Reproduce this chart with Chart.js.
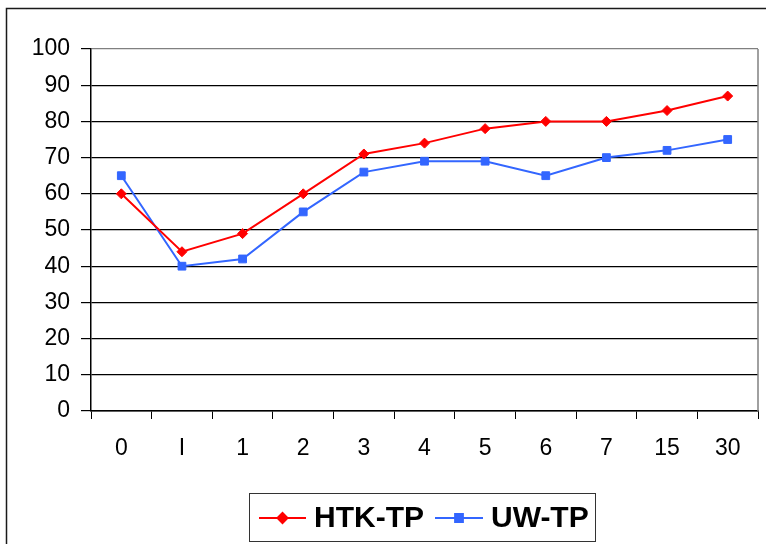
<!DOCTYPE html>
<html>
<head>
<meta charset="utf-8">
<script src="https://cdn.jsdelivr.net/npm/chart.js@4"></script>
<style>
  body { margin: 0; background: #fff; }
  #wrap { width: 766px; height: 544px; }
</style>
</head>
<body>
<div id="wrap"><canvas id="chart" width="766" height="544"></canvas></div>
<script>
const categories = ['0', 'I', '1', '2', '3', '4', '5', '6', '7', '15', '30'];
const htkValues = [60, 44, 49, 60, 71, 74, 78, 80, 80, 83, 87];
const uwValues = [65, 40, 42, 55, 66, 69, 69, 65, 70, 72, 75];
const seriesNames = ['HTK-TP', 'UW-TP'];

// frame around the whole picture, grey plot edge and the boxed legend
const decor = {
  id: 'decor',
  beforeDraw(chart) {
    const ctx = chart.ctx;
    ctx.save();
    ctx.strokeStyle = '#1a1a1a';
    ctx.lineWidth = 1.5;
    ctx.strokeRect(6.5, 8.5, 800, 600);
    ctx.restore();
  },
  afterDraw(chart) {
    const ctx = chart.ctx;
    const area = chart.chartArea;
    ctx.save();
    ctx.strokeStyle = '#808080';
    ctx.lineWidth = 1.5;
    ctx.beginPath();
    ctx.moveTo(area.right, area.top);
    ctx.lineTo(area.right, area.bottom);
    ctx.stroke();

    // legend box
    ctx.strokeStyle = '#333';
    ctx.lineWidth = 1;
    ctx.strokeRect(249.5, 493.5, 346, 48);

    const items = [
      { ds: chart.data.datasets[0], x0: 259, x1: 306, tx: 314 },
      { ds: chart.data.datasets[1], x0: 435, x1: 483, tx: 491 }
    ];
    const y = 518;
    items.forEach(it => {
      ctx.strokeStyle = it.ds.borderColor;
      ctx.lineWidth = 2;
      ctx.beginPath();
      ctx.moveTo(it.x0, y);
      ctx.lineTo(it.x1, y);
      ctx.stroke();
      Chart.helpers.drawPoint(ctx, {
        pointStyle: it.ds.pointStyle,
        radius: it.ds.pointRadius,
        borderWidth: 1,
        rotation: 0
      }, (it.x0 + it.x1) / 2, y);
      ctx.fillStyle = it.ds.borderColor;
      ctx.fill();
      ctx.fillStyle = '#000';
      ctx.font = 'bold 30px "Liberation Sans", Arial, sans-serif';
      ctx.textBaseline = 'middle';
      ctx.textAlign = 'left';
      ctx.fillText(it.ds.label, it.tx, y + 1);
    });
    ctx.restore();
  }
};

new Chart(document.getElementById('chart'), {
  type: 'line',
  data: {
    labels: categories,
    datasets: [
      {
        label: seriesNames[0],
        data: htkValues,
        borderColor: '#FF0000',
        backgroundColor: '#FF0000',
        borderWidth: 2,
        pointStyle: 'rectRot',
        pointRadius: 5,
        pointBorderWidth: 1,
        tension: 0,
        fill: false
      },
      {
        label: seriesNames[1],
        data: uwValues,
        borderColor: '#3366FF',
        backgroundColor: '#3366FF',
        borderWidth: 2,
        pointStyle: 'rect',
        pointRadius: 5.5,
        pointBorderWidth: 1,
        tension: 0,
        fill: false
      }
    ]
  },
  options: {
    responsive: false,
    animation: false,
    layout: { padding: { left: 0, top: 49, right: 8, bottom: 83 } },
    plugins: {
      legend: { display: false },
      tooltip: { enabled: false }
    },
    scales: {
      x: {
        offset: true,
        grid: {
          offset: true,
          drawOnChartArea: false,
          drawTicks: true,
          tickLength: 8,
          color: '#000',
          tickColor: '#000'
        },
        border: { color: '#000', width: 1.5 },
        ticks: {
          color: '#000',
          padding: 16,
          maxRotation: 0,
          font: { family: '"Liberation Sans", Arial, sans-serif', size: 23 }
        },
        afterFit(scale) { scale.height = 50; }
      },
      y: {
        min: 0,
        max: 100,
        grid: {
          color: (c) => (c.tick && c.tick.value === 100 ? '#808080' : '#000'),
          tickColor: '#000',
          lineWidth: 1.2,
          drawTicks: true,
          tickLength: 10
        },
        border: { color: '#000', width: 1.5 },
        ticks: {
          stepSize: 10,
          color: '#000',
          padding: 11,
          font: { family: '"Liberation Sans", Arial, sans-serif', size: 23 }
        },
        afterFit(scale) { scale.width = 91; }
      }
    }
  },
  plugins: [decor]
});
</script>
</body>
</html>
